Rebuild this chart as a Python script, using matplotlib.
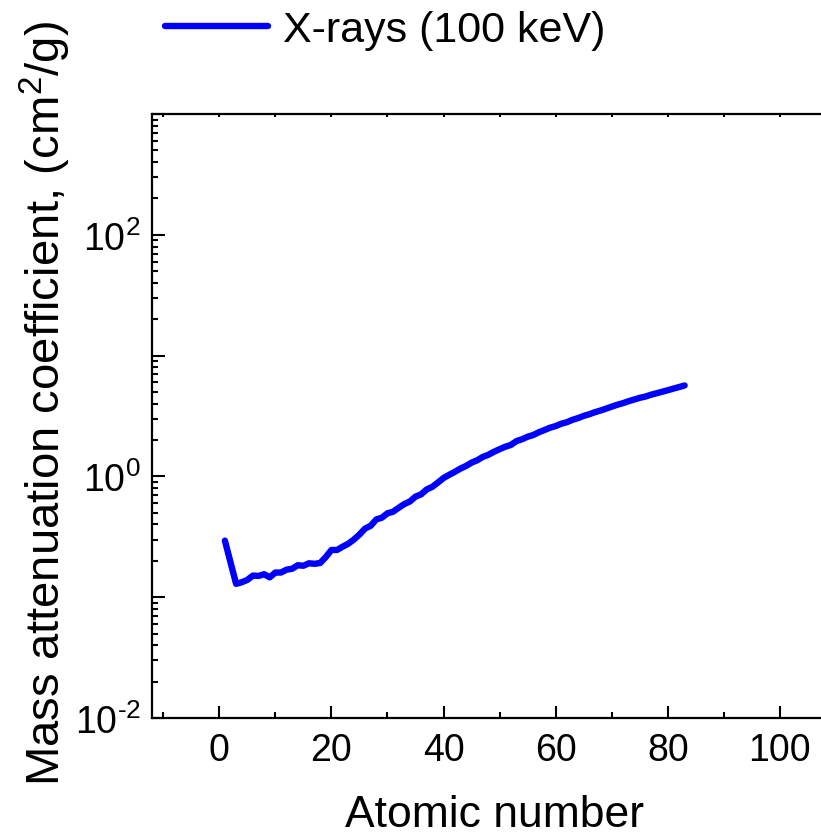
import math
import matplotlib
matplotlib.use("Agg")
import matplotlib.pyplot as plt
from matplotlib.ticker import FixedLocator, LogLocator, MultipleLocator, FuncFormatter

plt.rcParams["font.family"] = ["Liberation Sans", "DejaVu Sans"]
plt.rcParams["mathtext.fontset"] = "custom"
plt.rcParams["mathtext.rm"] = "Liberation Sans"
plt.rcParams["mathtext.it"] = "Liberation Sans:italic"
plt.rcParams["mathtext.default"] = "regular"

# mass attenuation coefficient at 100 keV vs atomic number
atomic_number = [1, 3, 4, 5, 6, 7, 8, 9, 10, 11, 12, 13, 14, 15, 16, 17, 18, 19, 20,
                 21, 22, 23, 24, 25, 26, 27, 28, 29, 30, 31, 32, 33, 34, 35, 36, 37, 38,
                 39, 40, 41, 42, 43, 44, 45, 46, 47, 48, 49, 50, 51, 52, 53, 54, 55, 56,
                 57, 58, 59, 60, 61, 62, 63, 64, 65, 66, 67, 68, 69, 70, 71, 72, 73, 74,
                 75, 76, 77, 78, 79, 80, 81, 82, 83]
mu_rho = [0.294, 0.129, 0.133, 0.139, 0.151, 0.150, 0.155, 0.146, 0.160, 0.160, 0.169,
          0.172, 0.184, 0.182, 0.191, 0.189, 0.192, 0.215, 0.246, 0.246, 0.262, 0.277,
          0.300, 0.330, 0.370, 0.390, 0.440, 0.455, 0.495, 0.510, 0.550, 0.590, 0.620,
          0.680, 0.710, 0.780, 0.820, 0.890, 0.970, 1.03, 1.09, 1.16, 1.22, 1.30, 1.36,
          1.45, 1.51, 1.60, 1.68, 1.76, 1.82, 1.96, 2.03, 2.13, 2.20, 2.32, 2.42, 2.53,
          2.61, 2.73, 2.81, 2.94, 3.04, 3.17, 3.27, 3.40, 3.51, 3.64, 3.78, 3.92, 4.04,
          4.19, 4.33, 4.47, 4.58, 4.74, 4.88, 5.02, 5.17, 5.33, 5.49, 5.66]
series_label = "X-rays (100 keV)"
x_ticks = [0, 20, 40, 60, 80, 100]
y_labelled = [-2, 0, 2]

fig = plt.figure(figsize=(8.21, 8.37), dpi=100)
ax = fig.add_axes([152 / 821, 118 / 837, 684 / 821, 604 / 837])

line, = ax.plot(atomic_number, mu_rho, color="#0000ff", lw=4.6,
                solid_capstyle="round", solid_joinstyle="round")

ax.set_yscale("log")
ax.set_ylim(1e-2, 1e3)
ax.set_xlim(-12, 110)

ax.xaxis.set_major_locator(FixedLocator(x_ticks))
ax.xaxis.set_minor_locator(MultipleLocator(10))
ax.yaxis.set_major_locator(LogLocator(base=10, numticks=10))
ax.yaxis.set_minor_locator(LogLocator(base=10, subs=range(2, 10), numticks=20))


def ylab(v, pos):
    e = round(math.log10(v))
    if e not in y_labelled:
        return ""
    if e < 0:
        return r"$10^{\text{-}%d}$" % (-e)
    return r"$10^{%d}$" % e


ax.yaxis.set_major_formatter(FuncFormatter(ylab))
ax.yaxis.set_minor_formatter(FuncFormatter(lambda v, p: ""))

for s in ax.spines.values():
    s.set_linewidth(1.6)
ax.tick_params(axis="both", which="both", direction="in", width=1.5, labelsize=27,
               top=True, right=False)
ax.tick_params(axis="both", which="major", length=9)
ax.tick_params(axis="both", which="minor", length=4.5)
ax.tick_params(axis="x", pad=10)
ax.tick_params(axis="y", pad=8)
# top ticks are only tiny marks in the original
for t in ax.xaxis.get_major_ticks() + ax.xaxis.get_minor_ticks():
    t.tick2line.set_markersize(2)

fig.text(45 / 821, 1 - 404 / 837, r"Mass attenuation coefficient, (cm$^2$/g)",
         rotation=90, ha="center", va="center", fontsize=34)
fig.text(494 / 821, 10 / 837, "Atomic number", ha="center", va="baseline",
         fontsize=32)

fig.legend([line], [series_label], loc="center left", frameon=False,
           bbox_to_anchor=(165 / 821, 1 - 31 / 837), bbox_transform=fig.transFigure,
           borderpad=0, borderaxespad=0, handlelength=2.4, handletextpad=0.35,
           fontsize=31)

fig.savefig("out.png", dpi=100)
